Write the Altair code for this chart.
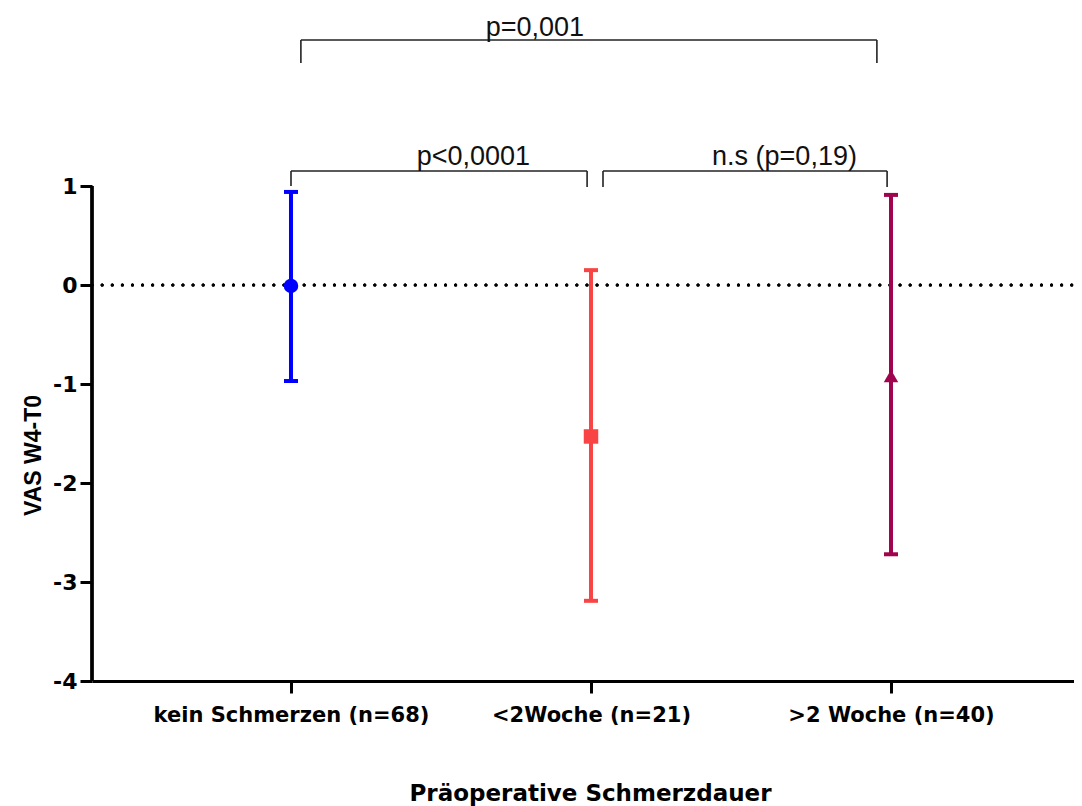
import json
import altair as alt
import pandas as pd

# ---- data ----
groups = ["kein Schmerzen (n=68)", "<2Woche (n=21)", ">2 Woche (n=40)"]
means = [-0.01, -1.53, -0.92]
upper = [0.94, 0.15, 0.91]
lower = [-0.97, -3.19, -2.72]
colors = ["#0000FF", "#F84444", "#A0044F"]
shapes = ["circle", "square", "triangle-up"]
y_ticks = [-4, -3, -2, -1, 0, 1]

# significance brackets (group-index / value coordinates)
br_left = [0.033, 0.0, 1.04]
br_right = [1.953, 0.987, 1.987]
br_top = [2.475, 1.152, 1.152]
br_leg_left = [2.242, 1.0, 0.99]
br_leg_right = [2.242, 0.99, 0.99]
p_texts = ["p=0,001", "p<0,0001", "n.s (p=0,19)"]
p_x = [0.813, 0.608, 1.645]
p_y = [2.596, 1.293, 1.293]

X_DOMAIN = [-0.6633, 2.61]
Y_DOMAIN = [-4, 2.7475]

df = pd.DataFrame({
    "idx": list(range(len(groups))),
    "group": groups,
    "mean": means,
    "hi": upper,
    "lo": lower,
})

segs = []
for l, r, t, bl, brr in zip(br_left, br_right, br_top, br_leg_left, br_leg_right):
    segs.append({"x1": l, "x2": r, "y1": t, "y2": t})
    segs.append({"x1": l, "x2": l, "y1": t, "y2": bl})
    segs.append({"x1": r, "x2": r, "y1": t, "y2": brr})
seg_df = pd.DataFrame(segs)
txt_df = pd.DataFrame({"label": p_texts, "x": p_x, "y": p_y})

xs = alt.Scale(domain=X_DOMAIN, nice=False, zero=False)
ys = alt.Scale(domain=Y_DOMAIN, nice=False, zero=False)
color_scale = alt.Scale(domain=groups, range=colors)
shape_scale = alt.Scale(domain=groups, range=shapes)

label_expr = json.dumps(groups) + "[datum.value]"

x_axis = alt.Axis(
    values=[0, 1, 2], labelExpr=label_expr, title="Präoperative Schmerzdauer",
    grid=False, domainColor="black", domainWidth=3, tickColor="black",
    tickWidth=3, tickSize=12, labelFont="DejaVu Sans", labelFontWeight="bold",
    labelFontSize=21, labelColor="black", labelPadding=11, labelLimit=0,
    labelOverlap=False,
    titleFont="DejaVu Sans", titleFontWeight="bold", titleFontSize=23,
    titleColor="black", titleX=498, titleY=112, titleAlign="center",
    titleBaseline="middle", labelFlush=False, titleLimit=0,
)
y_axis = alt.Axis(
    values=y_ticks, labelExpr="toString(datum.value)", title="VAS W4-T0",
    grid=False, domain=False,
    tickColor="black", tickWidth=3, tickSize=12, labelFont="DejaVu Sans",
    labelFontWeight="bold", labelFontSize=22, labelColor="black",
    labelPadding=3, labelLimit=0, titleFont="Liberation Sans",
    titleFontWeight="bold", titleLimit=0,
    titleFontSize=23, titleColor="black", titleAngle=270, titleX=-59,
    titleY=442, titleAlign="center", titleBaseline="middle", labelFlush=False,
)

base = alt.Chart(df)

zero_line = base.mark_rule(
    color="black", strokeWidth=3, strokeDash=[0.1, 10], strokeCap="round"
).encode(
    y=alt.datum(0, scale=ys, axis=y_axis, type="quantitative"),
    x=alt.value(0), x2=alt.value(982),
)

y_line = base.mark_rule(color="black", strokeWidth=3).encode(
    x=alt.value(0),
    y=alt.datum(-4, scale=ys, type="quantitative"),
    y2=alt.datum(1),
)

err = base.mark_rule(strokeWidth=4, opacity=1).encode(
    x=alt.X("idx:Q", scale=xs, axis=x_axis),
    y=alt.Y("lo:Q", scale=ys),
    y2="hi:Q",
    color=alt.Color("group:N", scale=color_scale, legend=None),
)

cap_lo = base.mark_tick(orient="horizontal", size=14, thickness=4, opacity=1).encode(
    x=alt.X("idx:Q", scale=xs),
    y=alt.Y("lo:Q", scale=ys),
    color=alt.Color("group:N", scale=color_scale, legend=None),
)
cap_hi = base.mark_tick(orient="horizontal", size=14, thickness=4, opacity=1).encode(
    x=alt.X("idx:Q", scale=xs),
    y=alt.Y("hi:Q", scale=ys),
    color=alt.Color("group:N", scale=color_scale, legend=None),
)

pts = base.mark_point(filled=True, opacity=1, size=210).encode(
    x=alt.X("idx:Q", scale=xs),
    y=alt.Y("mean:Q", scale=ys),
    color=alt.Color("group:N", scale=color_scale, legend=None),
    shape=alt.Shape("group:N", scale=shape_scale, legend=None),
)

brackets = alt.Chart(seg_df).mark_rule(color="#222222", strokeWidth=1.6).encode(
    x=alt.X("x1:Q", scale=xs), x2="x2:Q",
    y=alt.Y("y1:Q", scale=ys), y2="y2:Q",
)

ptext = alt.Chart(txt_df).mark_text(
    font="Liberation Sans", fontSize=27, color="#111111",
    align="center", baseline="middle",
).encode(
    x=alt.X("x:Q", scale=xs), y=alt.Y("y:Q", scale=ys), text="label:N",
)

chart = alt.layer(
    zero_line, y_line, err, cap_lo, cap_hi, pts, brackets, ptext
).properties(
    width=982, height=668,
    autosize=alt.AutoSizeParams(type="none"),
    padding={"left": 84, "top": 5, "right": 0, "bottom": 125},
).configure(background="white").configure_view(stroke=None, strokeWidth=0)

chart.save("out.html", embed_options={"renderer": "svg", "actions": False})
